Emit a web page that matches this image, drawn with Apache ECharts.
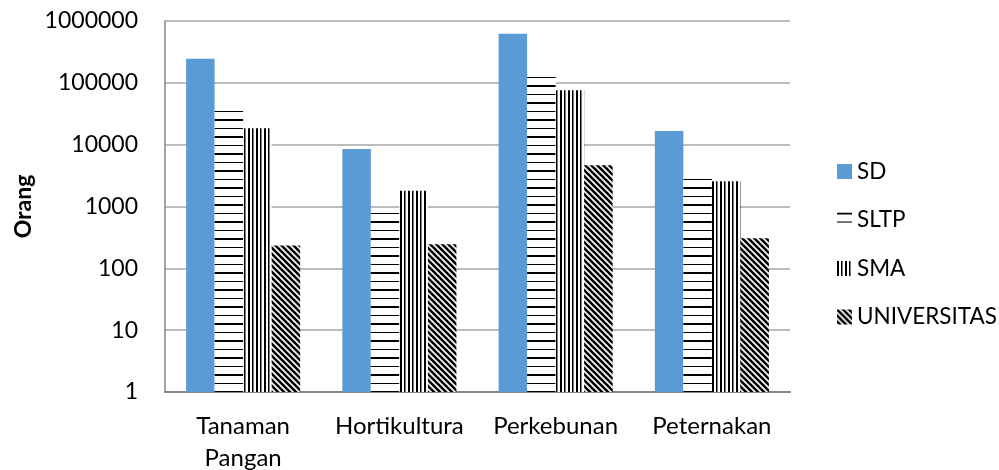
<!DOCTYPE html>
<html><head><meta charset="utf-8">
<script src="https://cdn.jsdelivr.net/npm/echarts@6/dist/echarts.min.js"></script>
<style>html,body{margin:0;padding:0;background:#fff}#c{width:999px;height:470px}</style>
</head><body><div id="c"></div>
<script>
var categories = ['Tanaman Pangan', 'Hortikultura', 'Perkebunan', 'Peternakan'];
var sdValues = [245000, 8500, 620000, 16700];
var sltpValues = [37500, 850, 131000, 2980];
var smaValues = [18500, 1790, 76000, 2570];
var univValues = [233, 245, 4650, 307];
var seriesNames = ['SD', 'SLTP', 'SMA', 'UNIVERSITAS'];
var yTicks = [1, 10, 100, 1000, 10000, 100000, 1000000];

function makeTile(w, h, draw) {
  var c = document.createElement('canvas');
  c.width = w; c.height = h;
  var g = c.getContext('2d');
  g.fillStyle = '#fff'; g.fillRect(0, 0, w, h);
  g.fillStyle = '#000'; g.strokeStyle = '#000';
  draw(g, w, h);
  return { image: c, repeat: 'repeat' };
}
var horizPat = makeTile(17, 17, function (g) {
  g.fillRect(0, 0, 17, 2);
  g.fillRect(0, 9, 17, 1);
});
var vertPat = makeTile(8, 8, function (g) {
  g.fillRect(0, 0, 2, 8);
  g.fillRect(4, 0, 1.5, 8);
});
var diagPat = makeTile(6, 6, function (g) {
  g.lineWidth = 2.6;
  for (var k = -1; k <= 1; k++) {
    g.beginPath(); g.moveTo(k * 6 - 1, -1); g.lineTo(k * 6 + 7, 7); g.stroke();
  }
});

var FONT = 'Lato';
var chart = echarts.init(document.getElementById('c'));
var fills = ['#5B9BD5', horizPat, vertPat, diagPat];
var datas = [sdValues, sltpValues, smaValues, univValues];
chart.setOption({
  animation: false,
  textStyle: { fontFamily: FONT },
  grid: { left: 165, right: 209, top: 21, bottom: 78, containLabel: false, outerBoundsMode: 'none' },
  legend: {
    orient: 'vertical', left: 832, top: 155,
    itemWidth: 15, itemHeight: 15, itemGap: 25.5,
    icon: 'rect',
    data: seriesNames,
    textStyle: { fontFamily: FONT, fontSize: 22.5, color: '#000' }
  },
  xAxis: {
    type: 'category', data: categories,
    axisLine: { lineStyle: { color: '#868686', width: 2 } },
    axisTick: { show: false },
    axisLabel: {
      interval: 0,
      fontFamily: FONT, fontSize: 24, color: '#000', margin: 18, lineHeight: 32,
      formatter: function (v) { return v.replace(' ', '\n'); }
    }
  },
  yAxis: {
    type: 'log', logBase: 10, min: 1, max: 1000000,
    name: 'Orang', nameLocation: 'middle', nameGap: 130, nameRotate: 90,
    nameMoveOverlap: false,
    nameTextStyle: { fontFamily: FONT, fontSize: 23, fontWeight: 'bold', color: '#000' },
    axisLine: { show: true, lineStyle: { color: '#868686', width: 1.5 } },
    axisTick: { show: false },
    splitLine: { lineStyle: { color: '#A6A6A6', width: 1.5 } },
    axisLabel: {
      fontFamily: FONT, fontSize: 23, color: '#000', margin: 27,
      formatter: function (v) { return String(Math.round(v)); }
    }
  },
  series: seriesNames.map(function (n, i) {
    return {
      name: n, type: 'bar', data: datas[i],
      barGap: 0, barCategoryGap: '27%',
      itemStyle: { color: fills[i] }
    };
  })
});
</script></body></html>
